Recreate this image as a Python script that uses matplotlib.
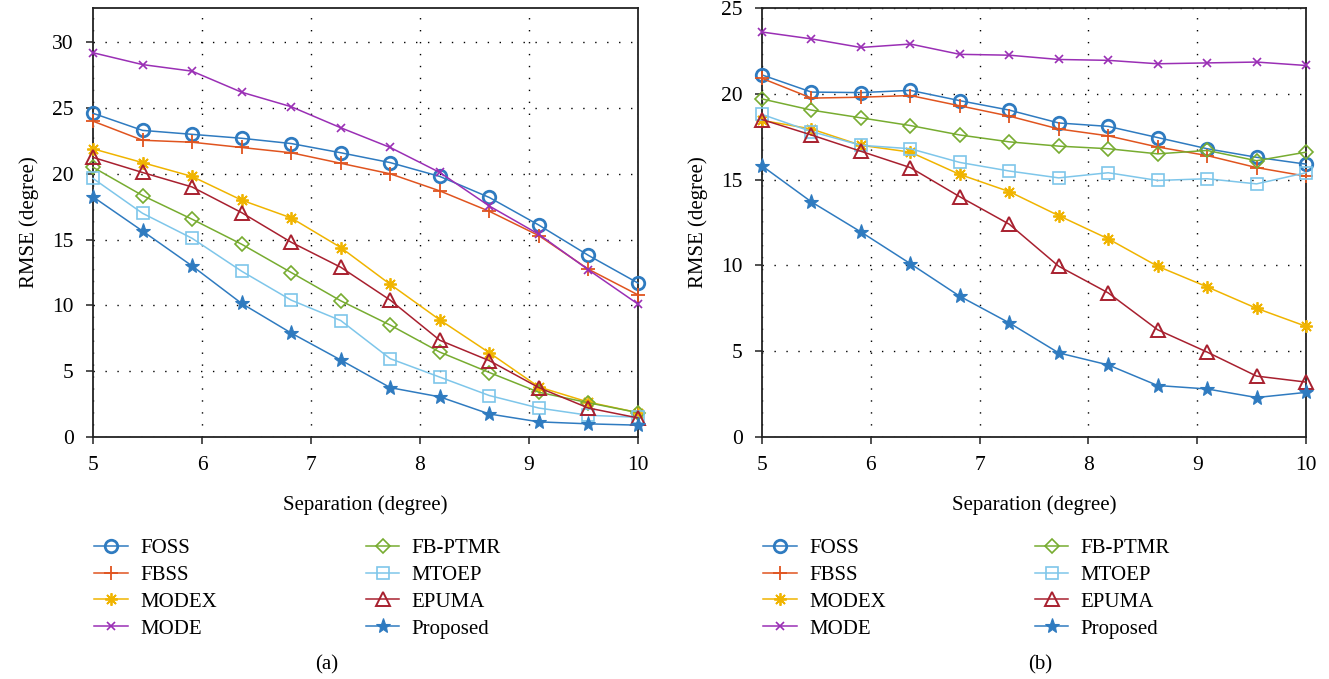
import numpy as np
import matplotlib
matplotlib.use("Agg")
import matplotlib.pyplot as plt

plt.rcParams['font.family'] = ['Liberation Serif', 'DejaVu Serif']

x = np.linspace(5, 10, 12)

labels = ["FOSS", "FBSS", "MODEX", "MODE", "FB-PTMR", "MTOEP", "EPUMA", "Proposed"]
colors = ["#2f7bc0", "#e0541f", "#f0b400", "#9a2fb5", "#77ac30", "#7ec6ea", "#a8202f", "#2f7bc0"]
markers = ["o", "+", (8, 2, 0), "x", "D", "s", "^", "*"]

# Panel (a)
a_foss = [24.6, 23.3, 23.0, 22.7, 22.3, 21.6, 20.85, 19.8, 18.2, 16.1, 13.8, 11.7]
a_fbss = [24.0, 22.55, 22.4, 22.0, 21.6, 20.8, 20.0, 18.7, 17.15, 15.3, 12.75, 10.8]
a_modex = [21.9, 20.85, 19.8, 18.0, 16.65, 14.4, 11.6, 8.9, 6.4, 3.8, 2.65, 1.85]
a_mode = [29.2, 28.3, 27.8, 26.2, 25.1, 23.5, 22.0, 20.1, 17.55, 15.4, 12.7, 10.1]
a_fbptmr = [20.5, 18.35, 16.55, 14.65, 12.5, 10.35, 8.5, 6.45, 4.9, 3.4, 2.6, 1.85]
a_mtoep = [19.65, 17.0, 15.1, 12.6, 10.4, 8.85, 5.95, 4.55, 3.15, 2.2, 1.65, 1.5]
a_epuma = [21.25, 20.1, 19.0, 17.05, 14.8, 12.9, 10.4, 7.35, 5.8, 3.75, 2.2, 1.45]
a_proposed = [18.25, 15.65, 13.0, 10.15, 7.9, 5.85, 3.75, 3.05, 1.75, 1.15, 1.0, 0.9]

# Panel (b)
b_foss = [21.1, 20.1, 20.07, 20.2, 19.6, 19.05, 18.3, 18.1, 17.45, 16.8, 16.3, 15.9]
b_fbss = [20.9, 19.75, 19.8, 19.9, 19.3, 18.7, 17.95, 17.55, 16.9, 16.4, 15.7, 15.2]
b_modex = [18.45, 17.95, 17.0, 16.6, 15.3, 14.3, 12.9, 11.55, 9.95, 8.75, 7.5, 6.45]
b_mode = [23.6, 23.2, 22.7, 22.9, 22.3, 22.25, 22.0, 21.95, 21.75, 21.8, 21.85, 21.65]
b_fbptmr = [19.7, 19.05, 18.6, 18.15, 17.6, 17.2, 16.95, 16.8, 16.5, 16.7, 16.1, 16.6]
b_mtoep = [18.8, 17.8, 17.0, 16.8, 16.0, 15.5, 15.1, 15.4, 14.95, 15.05, 14.75, 15.4]
b_epuma = [18.5, 17.6, 16.65, 15.7, 14.0, 12.4, 9.95, 8.4, 6.25, 4.95, 3.55, 3.2]
b_proposed = [15.8, 13.7, 11.95, 10.1, 8.2, 6.65, 4.9, 4.2, 3.0, 2.8, 2.3, 2.6]

panel_a = [a_foss, a_fbss, a_modex, a_mode, a_fbptmr, a_mtoep, a_epuma, a_proposed]
panel_b = [b_foss, b_fbss, b_modex, b_mode, b_fbptmr, b_mtoep, b_epuma, b_proposed]

W, H = 1329, 679
fig = plt.figure(figsize=(W / 100, H / 100), dpi=100)

def px_axes(l, r, t, b):
    return fig.add_axes([l / W, 1 - b / H, (r - l) / W, (b - t) / H])

ax_a = px_axes(93, 638, 8, 437)
ax_b = px_axes(762, 1306, 8, 437)

def draw(ax, data, ylim, yticks):
    handles = []
    for vals, lab, c, m in zip(data, labels, colors, markers):
        kw = dict(color=c, lw=1.1, marker=m, label=lab, clip_on=False, zorder=3)
        if m == "o":
            kw.update(ms=9, mfc="none", mew=2.0)
        elif m == "+":
            kw.update(ms=10, mew=1.3)
        elif m == "*":
            kw.update(ms=11, mfc=c, mec=c, mew=0.8)
        elif m == "x":
            kw.update(ms=6, mew=1.2)
        elif m == "D":
            kw.update(ms=7, mfc="none", mew=1.2)
        elif m == "s":
            kw.update(ms=8, mfc="none", mew=1.2)
        elif m == "^":
            kw.update(ms=10, mfc="none", mew=1.4)
        else:
            kw.update(ms=9, mew=1.3)
        h, = ax.plot(x, vals, **kw)
        handles.append(h)
    ax.set_xlim(5, 10)
    ax.set_ylim(*ylim)
    ax.set_xticks([5, 6, 7, 8, 9, 10])
    ax.set_yticks(yticks)
    ax.grid(True, color="black", linestyle=(0, (1.0, 7.6)), linewidth=1.0)
    ax.tick_params(labelsize=15.5, direction="out", length=5, width=1.2, color="#333333")
    ax.tick_params(axis="y", pad=9)
    ax.tick_params(axis="x", pad=9)
    for s in ax.spines.values():
        s.set_linewidth(1.3)
        s.set_color("#222222")
    ax.set_axisbelow(True)
    ax.set_ylabel("RMSE (degree)", fontsize=15, labelpad=9)
    ax.set_xlabel("Separation (degree)", fontsize=15, labelpad=14)
    return handles

ha = draw(ax_a, panel_a, (0, 32.6), [0, 5, 10, 15, 20, 25, 30])
hb = draw(ax_b, panel_b, (0, 25), [0, 5, 10, 15, 20, 25])

for handles, xl in ((ha, 86), (hb, 755)):
    fig.legend(handles=handles, labels=labels, loc="upper left",
               bbox_to_anchor=(xl / W, 1 - 530 / H), ncol=2, frameon=False,
               fontsize=15, handlelength=1.6, columnspacing=7.15,
               labelspacing=0.35, handletextpad=0.6, borderaxespad=0)

fig.text(327 / W, 1 - 665 / H, "(a)", ha="center", va="center", fontsize=15)
fig.text(1040 / W, 1 - 665 / H, "(b)", ha="center", va="center", fontsize=15)

fig.savefig("out.png", dpi=100)
